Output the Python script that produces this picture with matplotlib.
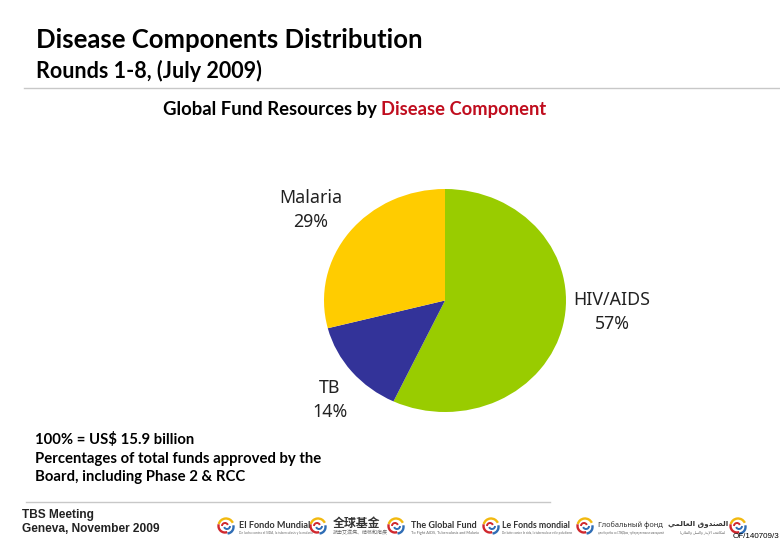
import matplotlib
matplotlib.use('Agg')
import matplotlib.pyplot as plt
from matplotlib.patches import Arc

components = ['HIV/AIDS', 'TB', 'Malaria']
shares = [57, 14, 29]
colors = ['#99cc00', '#333399', '#ffcc00']

W, H = 780, 540
SANS = 'Lato'

fig = plt.figure(figsize=(W / 100, H / 100), dpi=100)

# page layer in pixel coordinates
page = fig.add_axes([0, 0, 1, 1])
page.set_xlim(0, W)
page.set_ylim(H, 0)
page.axis('off')

# the pie is stretched a bit wider than tall
left, right, top, bottom = 324, 566, 189, 412
ax = fig.add_axes([left / W, 1 - bottom / H, (right - left) / W, (bottom - top) / H])
ax.pie(shares, colors=colors, startangle=90, counterclock=False, radius=1)
ax.set_aspect('auto')
ax.set_xlim(-1, 1)
ax.set_ylim(-1, 1)

page.text(36, 40, 'Disease Components Distribution', fontsize=18.5, fontweight='bold',
          family=SANS, va='center')
page.text(36, 71, 'Rounds 1-8, (July 2009)', fontsize=15.5, fontweight='bold',
          family=SANS, va='center')
page.plot([24, 780], [88, 88], color='#c8c8c8', lw=1)

page.text(163, 109, 'Global Fund Resources by', fontsize=13.3, fontweight='bold',
          family=SANS, va='center')
page.text(381, 109, 'Disease Component', fontsize=13.2, fontweight='bold',
          family=SANS, va='center', color='#c00d1e')

label_pos = [(311, 210), (612, 312), (330, 400)]
label_order = [2, 0, 1]
for k, (x, y) in zip(label_order, label_pos):
    page.text(x, y, '{}\n{}%'.format(components[k], shares[k]), fontsize=12.8, family='Noto Sans',
              ha='center', va='center', linespacing=1.42, color='#222222')

page.text(35, 458, '100% = US$ 15.9 billion\nPercentages of total funds approved by the\n'
          'Board, including Phase 2 & RCC', fontsize=10.7, fontweight='bold', family=SANS,
          va='center', linespacing=1.42)

page.plot([26, 550], [502, 502], color='#c8c8c8', lw=1)
page.text(22, 522, 'TBS Meeting\nGeneva, November 2009', fontsize=8.6, family='Liberation Sans',
          va='center', linespacing=1.2, fontweight='bold', color='#222222')

# Global Fund logo strip
ar_name = '\ufef2\ufee4\ufedf\ufe8e\ufecc\ufedf\ufe8d \ufed5\ufeed\ufeaa\ufee8\ufebc\ufedf\ufe8d'
ar_sub = ('\ufe8e\ufef3\ufead\ufefc\ufee4\ufedf\ufe8d\ufeed \ufede\ufeb4\ufedf\ufe8d\ufeed '
          '\ufeaf\ufeaa\ufef3\ufef9\ufe8d \ufe94\ufea4\ufed3\ufe8e\ufedc\ufee4\ufedf')
icon_x = [226, 318, 396, 491, 585, 738]
names = ['El Fondo Mundial', '全球基金', 'The Global Fund', 'Le Fonds mondial',
         'Глобальный фонд', ar_name]
subs = ['De lucha contra el SIDA, la tuberculosis y la malaria', '抗击艾滋病、结核和疟疾',
        'To Fight AIDS, Tuberculosis and Malaria',
        'De lutte contre le sida, la tuberculose et le paludisme',
        'для борьбы со СПИДом, туберкулезом и малярией', ar_sub]
name_x = [239, 333, 411, 502, 598, 668]
sub_x = [239, 333, 411, 502, 598, 680]
name_y = [525, 524, 525, 525, 525, 524]
name_fonts = [SANS, 'Noto Sans CJK SC', SANS, SANS, 'Noto Sans', 'DejaVu Sans']
name_sizes = [6.6, 8.6, 6.5, 6.3, 5.3, 5.2]
sub_sizes = [2.3, 3.6, 2.8, 2.2, 1.9, 2.6]
sub_fonts = [SANS, 'Noto Sans CJK SC', SANS, SANS, 'Noto Sans', 'DejaVu Sans']

for i in range(len(names)):
    cx = icon_x[i]
    # angles run clockwise on screen because the page y axis is flipped
    page.add_patch(Arc((cx, 526), 15, 15, theta1=195, theta2=335, color='#f2b90f', lw=1.7))
    page.add_patch(Arc((cx - 1, 526), 13, 13, theta1=70, theta2=195, color='#d0282e', lw=1.7))
    page.add_patch(Arc((cx + 1, 527), 13, 13, theta1=345, theta2=85, color='#2f6db5', lw=1.7))
    page.add_patch(Arc((cx - 1, 526), 6, 6, theta1=180, theta2=340, color='#d0282e', lw=1.4))
    page.add_patch(Arc((cx + 1, 526), 6, 6, theta1=0, theta2=160, color='#2f6db5', lw=1.4))
    page.text(name_x[i], name_y[i], names[i], fontsize=name_sizes[i], family=name_fonts[i],
              fontweight='bold', va='center', color='#333333')
    page.text(sub_x[i], 533, subs[i], fontsize=sub_sizes[i], family=sub_fonts[i],
              va='center', color='#666666')

page.text(733, 536, 'OF/140709/3', fontsize=5.8, family='Liberation Sans', va='center')

fig.savefig('out.png', dpi=100)
